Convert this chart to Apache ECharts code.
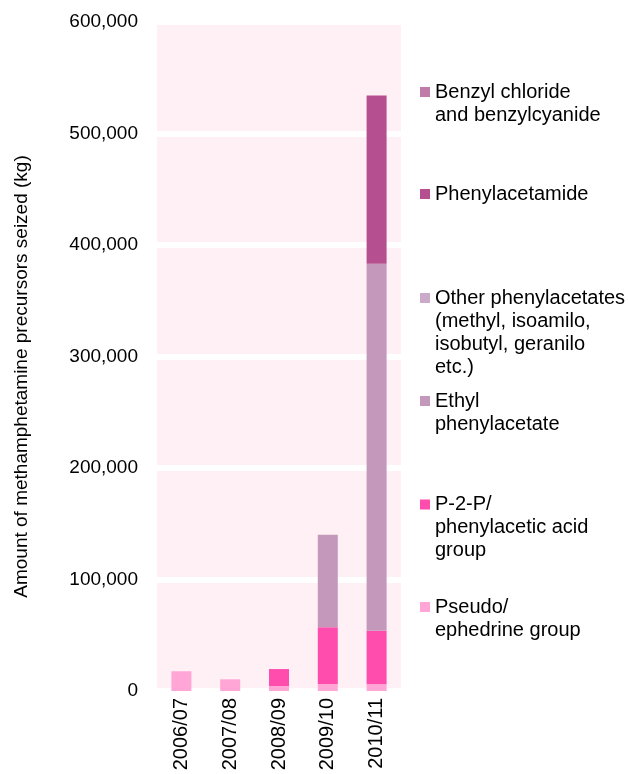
<!DOCTYPE html>
<html><head><meta charset="utf-8">
<script src="https://cdn.jsdelivr.net/npm/echarts@6/dist/echarts.min.js"></script>
<style>html,body{margin:0;padding:0;background:#fff}#c{width:628px;height:774px}</style>
</head><body><div id="c"></div>
<script>
const categories = ['2006/07', '2007/08', '2008/09', '2009/10', '2010/11'];
const pseudoEphedrine = [17700, 10500, 4500, 6300, 6000];
const p2pPhenylaceticAcid = [0, 0, 15200, 50800, 48100];
const ethylPhenylacetate = [0, 0, 0, 83100, 329000];
const otherPhenylacetates = [0, 0, 0, 0, 0];
const phenylacetamide = [0, 0, 0, 0, 151000];
const benzylChloride = [0, 0, 0, 0, 0];
const yTickValues = [0, 100000, 200000, 300000, 400000, 500000, 600000];

const seriesNames = [
  'Pseudo/ ephedrine group',
  'P-2-P/ phenylacetic acid group',
  'Ethyl phenylacetate',
  'Other phenylacetates (methyl, isoamilo, isobutyl, geranilo etc.)',
  'Phenylacetamide',
  'Benzyl chloride and benzylcyanide'
];
const legendLabels = [
  'Pseudo/\nephedrine group',
  'P-2-P/\nphenylacetic acid\ngroup',
  'Ethyl\nphenylacetate',
  'Other phenylacetates\n(methyl, isoamilo,\nisobutyl, geranilo\netc.)',
  'Phenylacetamide',
  'Benzyl chloride\nand benzylcyanide'
];
const seriesData = [pseudoEphedrine, p2pPhenylaceticAcid, ethylPhenylacetate, otherPhenylacetates, phenylacetamide, benzylChloride];
const colors = ['#FFA6D6', '#FF4DAE', '#C498BA', '#CAAAC8', '#B54F8F', '#C07CA9'];
const legendCenters = [607, 504.5, 401, 298, 194, 92];

const FONT = 'Liberation Sans, Arial, Helvetica, sans-serif';
const LH = 23;

const legends = seriesNames.map((name, i) => {
  const n = legendLabels[i].split('\n').length;
  const H = (2 * n - 1) * LH;
  return {
    data: [name],
    left: 420,
    top: legendCenters[i] - H / 2,
    padding: 0,
    orient: 'vertical',
    itemWidth: 10,
    itemHeight: 10,
    icon: 'rect',
    selectedMode: false,
    formatter: () => '\n'.repeat(n - 1) + legendLabels[i],
    textStyle: {
      fontFamily: FONT, fontSize: 20, color: '#000', lineHeight: LH
    }
  };
});

const chart = echarts.init(document.getElementById('c'));
chart.setOption({
  animation: false,
  backgroundColor: '#fff',
  color: colors,
  grid: { left: 157, right: 227, top: 22, bottom: 83, show: true, backgroundColor: '#FEF0F4', borderWidth: 0 },
  legend: legends,
  xAxis: {
    type: 'category',
    data: categories,
    axisLine: { show: false },
    axisTick: { show: false },
    axisLabel: { rotate: 90, margin: 7, fontFamily: FONT, fontSize: 20, color: '#000' }
  },
  yAxis: {
    type: 'value',
    min: 0, max: 600000, interval: 100000,
    name: 'Amount of methamphetamine precursors seized (kg)',
    nameLocation: 'middle',
    nameGap: 126,
    nameTextStyle: { fontFamily: FONT, fontSize: 19, color: '#000', padding: [0, 40, 0, 0] },
    axisLine: { show: false },
    axisTick: { show: false },
    axisLabel: { margin: 19, fontFamily: FONT, fontSize: 19, color: '#000',
      formatter: v => yTickValues.includes(v) ? v.toLocaleString('en-US') : '' },
    splitLine: { show: true, lineStyle: { color: '#fff', width: 6 } }
  },
  series: seriesNames.map((name, i) => ({
    name,
    type: 'bar',
    stack: 'total',
    barWidth: 20,
    data: seriesData[i],
    itemStyle: { color: colors[i] }
  }))
});
</script></body></html>
